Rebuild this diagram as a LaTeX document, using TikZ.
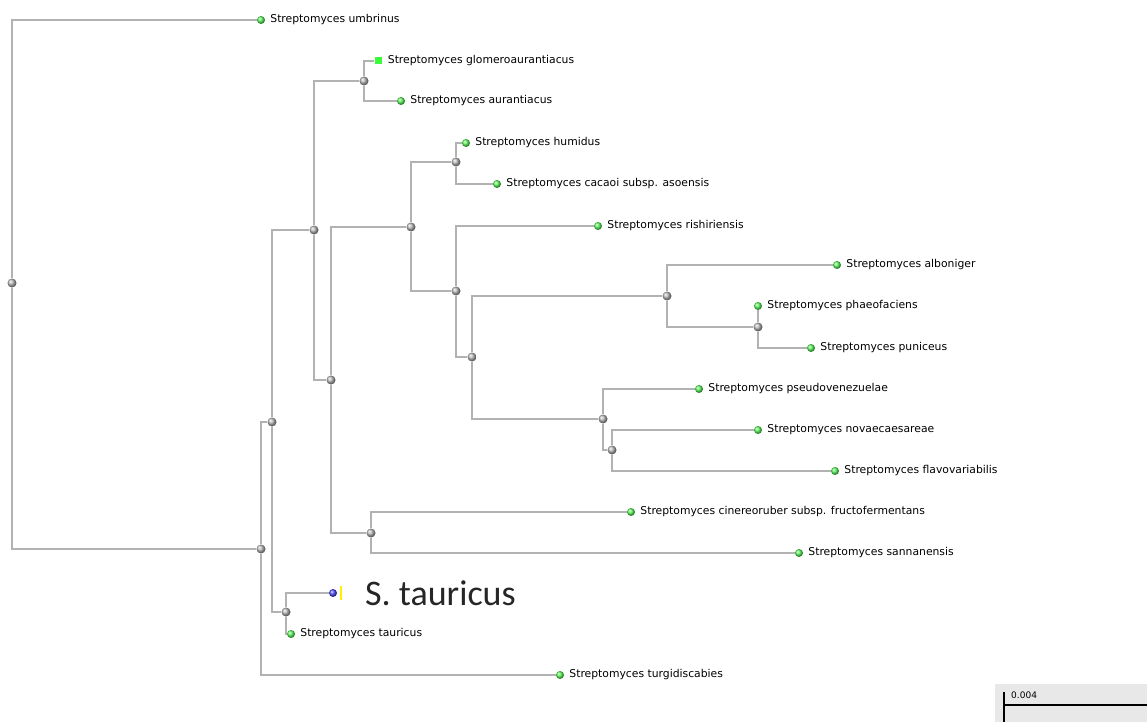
\documentclass[tikz,border=0pt]{standalone}
\usepackage{fontspec}
\usepackage{tikz}
\usetikzlibrary{positioning, backgrounds, shadings}
\newfontfamily\treefont{DejaVu Sans}
\newfontfamily\bigfont{Carlito}
\definecolor{branchgray}{RGB}{178,178,178}
\definecolor{leafgreen}{RGB}{60,250,60}
\tikzset{
  leaf/.style={circle, inner sep=0pt, minimum size=8pt, shading=ball, ball color=leafgreen!85!white},
  sqleaf/.style={rectangle, inner sep=0pt, minimum size=7pt, fill=leafgreen},
  inner/.style={circle, inner sep=0pt, minimum size=9pt, shading=ball, ball color=gray!55},
  query/.style={circle, inner sep=0pt, minimum size=8pt, shading=ball, ball color=blue!70!white},
  branch/.style={draw=branchgray, line width=1.4pt},
  lbl/.style={inner sep=1pt, font=\treefont\fontsize{10.8}{13}\selectfont, text=black},
}
\begin{document}
\begin{tikzpicture}[x=1pt, y=-1pt]
  \useasboundingbox (0,0) rectangle (1147,722);

  % Inner nodes
  \node[inner] (n0) at (12,283) {};
  \node[inner] (n1) at (261,549) {};
  \node[inner] (n2) at (272,422) {};
  \node[inner] (n3) at (314,230) {};
  \node[inner] (n4) at (364,81) {};
  \node[inner] (n5) at (331,380) {};
  \node[inner] (n6) at (411,227) {};
  \node[inner] (n7) at (456,162) {};
  \node[inner] (n8) at (456,291) {};
  \node[inner] (n9) at (472,357) {};
  \node[inner] (n10) at (667,296) {};
  \node[inner] (n11) at (758,327) {};
  \node[inner] (n12) at (603,419) {};
  \node[inner] (n13) at (612,450) {};
  \node[inner] (n14) at (371,533) {};
  \node[inner] (n15) at (286,612) {};

  % Leaves
  \node[leaf] (umb) at (261,20) {};
  \node[sqleaf] (glo) at (378,61) {};
  \node[leaf] (aur) at (401,101) {};
  \node[leaf] (hum) at (466,143) {};
  \node[leaf] (cac) at (497,184) {};
  \node[leaf] (ris) at (598,226) {};
  \node[leaf] (alb) at (837,265) {};
  \node[leaf] (pha) at (758,306) {};
  \node[leaf] (pun) at (811,348) {};
  \node[leaf] (pse) at (699,389) {};
  \node[leaf] (nov) at (758,430) {};
  \node[leaf] (fla) at (835,471) {};
  \node[leaf] (cin) at (631,512) {};
  \node[leaf] (san) at (799,553) {};
  \node[query] (qry) at (333,593) {};
  \node[leaf] (tau) at (291,634) {};
  \node[leaf] (tur) at (560,675) {};

  % Labels
  \node[lbl, right=4pt of umb] {Streptomyces umbrinus};
  \node[lbl, right=5pt of glo] {Streptomyces glomeroaurantiacus};
  \node[lbl, right=4pt of aur] {Streptomyces aurantiacus};
  \node[lbl, right=4pt of hum] {Streptomyces humidus};
  \node[lbl, right=4pt of cac] {Streptomyces cacaoi subsp. asoensis};
  \node[lbl, right=4pt of ris] {Streptomyces rishiriensis};
  \node[lbl, right=4pt of alb] {Streptomyces alboniger};
  \node[lbl, right=4pt of pha] {Streptomyces phaeofaciens};
  \node[lbl, right=4pt of pun] {Streptomyces puniceus};
  \node[lbl, right=4pt of pse] {Streptomyces pseudovenezuelae};
  \node[lbl, right=4pt of nov] {Streptomyces novaecaesareae};
  \node[lbl, right=4pt of fla] {Streptomyces flavovariabilis};
  \node[lbl, right=4pt of cin] {Streptomyces cinereoruber subsp. fructofermentans};
  \node[lbl, right=4pt of san] {Streptomyces sannanensis};
  \node[lbl, right=4pt of tau] {Streptomyces tauricus};
  \node[lbl, right=4pt of tur] {Streptomyces turgidiscabies};

  % Query sequence
  \coordinate (mk1) at (341,586);
  \coordinate (mk2) at (341,600);
  \draw[yellow, line width=1.5pt] (mk1) -- (mk2);
  \node[anchor=west, inner sep=0pt, text=black!85, font=\bigfont\fontsize{36}{42}\selectfont]
    at (365,593) {S. tauricus};

  % Branches
  \begin{scope}[on background layer]
    \draw[branch] (n0) |- (umb);
    \draw[branch] (n0) |- (n1);
    \draw[branch] (n1) |- (n2);
    \draw[branch] (n1) |- (tur);
    \draw[branch] (n2) |- (n3);
    \draw[branch] (n2) |- (n15);
    \draw[branch] (n15) |- (qry);
    \draw[branch] (n15) |- (tau);
    \draw[branch] (n3) |- (n4);
    \draw[branch] (n3) |- (n5);
    \draw[branch] (n4) |- (glo);
    \draw[branch] (n4) |- (aur);
    \draw[branch] (n5) |- (n6);
    \draw[branch] (n5) |- (n14);
    \draw[branch] (n6) |- (n7);
    \draw[branch] (n6) |- (n8);
    \draw[branch] (n7) |- (hum);
    \draw[branch] (n7) |- (cac);
    \draw[branch] (n8) |- (ris);
    \draw[branch] (n8) |- (n9);
    \draw[branch] (n9) |- (n10);
    \draw[branch] (n9) |- (n12);
    \draw[branch] (n10) |- (alb);
    \draw[branch] (n10) |- (n11);
    \draw[branch] (n11) -- (pha);
    \draw[branch] (n11) |- (pun);
    \draw[branch] (n12) |- (pse);
    \draw[branch] (n12) |- (n13);
    \draw[branch] (n13) |- (nov);
    \draw[branch] (n13) |- (fla);
    \draw[branch] (n14) |- (cin);
    \draw[branch] (n14) |- (san);
  \end{scope}

  % Scale bar
  \fill[black!9] (995,684) rectangle (1147,722);
  \coordinate (sb0) at (1004,705);
  \coordinate (sb1) at (1147,705);
  \coordinate (sbt) at (1004,692);
  \coordinate (sbb) at (1004,722);
  \draw[black, line width=1.5pt] (sbt) -- (sbb);
  \draw[black, line width=1.5pt] (sb0) -- (sb1);
  \node[anchor=base west, inner sep=0pt, font=\treefont\fontsize{9}{11}\selectfont] at (1011,698) {0.004};
\end{tikzpicture}
\end{document}
